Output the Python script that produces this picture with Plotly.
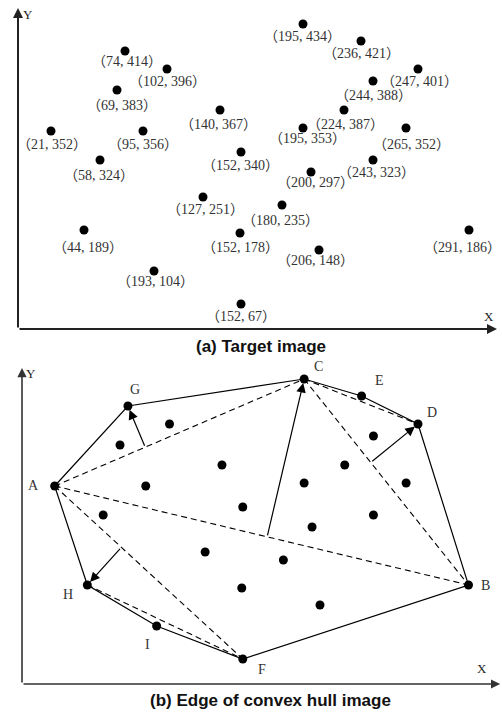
import plotly.graph_objects as go

# ---------------- data (positions) ----------------
# point positions in a common plot unit (x to the right, y upwards from the origin)
pt_x = [107, 149, 99, 33, 125, 82, 202, 223, 285, 343, 400, 355, 326, 285, 388,
        355, 293, 185, 66, 222, 136, 223, 264, 301, 451]
pt_y = [278, 260, 239, 198, 198, 169, 219, 177, 305, 288, 260, 248, 219, 201, 201,
        169, 157, 132, 99, 96, 58, 25, 124, 79, 99]
# coordinate labels printed next to each point
lab_x = [74, 102, 69, 21, 95, 58, 140, 152, 195, 236, 247, 244, 224, 195, 265,
         243, 200, 127, 44, 152, 193, 152, 180, 206, 291]
lab_y = [414, 396, 383, 352, 356, 324, 367, 340, 434, 421, 401, 388, 387, 353, 352,
         323, 297, 251, 189, 178, 104, 67, 235, 148, 186]

# convex hull vertices (letter -> labelled point), in hull order
hull_names = ["A", "G", "C", "E", "D", "B", "F", "I", "H"]
hull_points = [(21, 352), (74, 414), (195, 434), (236, 421), (247, 401),
               (291, 186), (152, 67), (193, 104), (44, 189)]
# dashed chords between hull vertices
chords = [("A", "C"), ("A", "B"), ("A", "F"), ("C", "D"), ("C", "B"), ("H", "F")]
# arrows: from chord (p, q) to farthest vertex v
arrows = [("A", "C", "G"), ("A", "B", "C"), ("C", "B", "D"), ("A", "F", "H")]

titles = ["(a) Target image", "(b) Edge of convex hull image"]

# ---------------- label placement (pixel offsets of each coordinate label) ----------------
label_dx = [2, 0, 5, 1, 0, -1, -2, -1, -1, 0, 1, 0, 1, 4, 5, 3, 4, 2, 4, 0, 1, 0, -2, -4, -7]
label_dy = [10, 12, 15, 13, 13, 15, 14, 13, 12, 12, 12, 14, 14, 10, 16, 12, 10, 12, 17, 14,
            10, 12, 15, 10, 17]

# ---------------- helpers ----------------
def idx_of(lbl):
    for i, (a, b) in enumerate(zip(lab_x, lab_y)):
        if (a, b) == lbl:
            return i
    raise KeyError(lbl)

vert = {n: idx_of(p) for n, p in zip(hull_names, hull_points)}

def P(name):
    i = vert[name]
    return pt_x[i], pt_y[i]

def foot(p, q, v):
    (x1, y1), (x2, y2), (x0, y0) = P(p), P(q), P(v)
    dx, dy = x2 - x1, y2 - y1
    t = ((x0 - x1) * dx + (y0 - y1) * dy) / (dx * dx + dy * dy)
    return x1 + t * dx, y1 + t * dy

LABEL_FONT = dict(family="Liberation Serif, Noto Sans CJK SC, serif", size=14, color="#333")
LETTER_FONT = dict(family="Liberation Serif, DejaVu Serif, serif", size=14, color="#333")
AXIS_FONT = dict(family="Liberation Serif, DejaVu Serif, serif", size=13, color="#222")
TITLE_FONT = dict(family="Liberation Sans, Arial, sans-serif", size=17, color="#111")

fig = go.Figure()

# ---------------- panel (a) ----------------
fig.add_trace(go.Scatter(
    x=pt_x, y=pt_y, mode="markers",
    marker=dict(size=9, color="black"),
    xaxis="x", yaxis="y", hoverinfo="skip"))

annotations = []
for i, (a, b) in enumerate(zip(lab_x, lab_y)):
    annotations.append(dict(x=pt_x[i], y=pt_y[i], xref="x", yref="y",
                            text=f"（{a}, {b}）", showarrow=False,
                            xanchor="center", yanchor="middle", borderpad=0,
                            xshift=label_dx[i], yshift=-label_dy[i], font=LABEL_FONT))

# ---------------- panel (b) ----------------
# dashed chords
for p, q in chords:
    (x1, y1), (x2, y2) = P(p), P(q)
    fig.add_trace(go.Scatter(x=[x1, x2], y=[y1, y2], mode="lines",
                             line=dict(color="black", width=1.1, dash="6px,4px"),
                             xaxis="x2", yaxis="y2", hoverinfo="skip"))
# solid hull
hx = [P(n)[0] for n in hull_names] + [P(hull_names[0])[0]]
hy = [P(n)[1] for n in hull_names] + [P(hull_names[0])[1]]
fig.add_trace(go.Scatter(x=hx, y=hy, mode="lines",
                         line=dict(color="black", width=1.2),
                         xaxis="x2", yaxis="y2", hoverinfo="skip"))
# all points
fig.add_trace(go.Scatter(x=pt_x, y=pt_y, mode="markers",
                         marker=dict(size=9, color="black"),
                         xaxis="x2", yaxis="y2", hoverinfo="skip"))

# hull letters (pixel offsets from the vertex)
letter_offsets = {"A": (-21, 0), "G": (7, 16), "C": (14, 12), "E": (18, 15),
                  "D": (14, 11), "B": (17, 0), "F": (19, -10), "I": (-9, -18),
                  "H": (-19, -9)}
for n in hull_names:
    x0, y0 = P(n)
    dx, dy = letter_offsets[n]
    annotations.append(dict(x=x0, y=y0, xref="x2", yref="y2", text=n, showarrow=False,
                            xshift=dx, yshift=dy, font=LETTER_FONT))
# arrows from chords to farthest vertices
for p, q, v in arrows:
    fx, fy = foot(p, q, v)
    vx, vy = P(v)
    annotations.append(dict(x=vx, y=vy, ax=fx, ay=fy, xref="x2", yref="y2",
                            axref="x2", ayref="y2", text="", showarrow=True,
                            arrowhead=2, arrowsize=1.6, arrowwidth=1.2,
                            arrowcolor="black", standoff=4))

# axes arrows
for xr, yr, ytip, xtip, w, s, col in [("x", "y", 321, 479, 2, 1.0, "#222"),
                                      ("x2", "y2", 316, 483, 1.6, 1.15, "#333")]:
    annotations.append(dict(x=0, y=ytip, ax=0, ay=0, xref=xr, yref=yr, axref=xr, ayref=yr,
                            text="", showarrow=True, arrowhead=2, arrowsize=s,
                            arrowwidth=w, arrowcolor=col))
    annotations.append(dict(x=xtip, y=0, ax=0, ay=0, xref=xr, yref=yr, axref=xr, ayref=yr,
                            text="", showarrow=True, arrowhead=2, arrowsize=s,
                            arrowwidth=w, arrowcolor=col))
# axis letters
annotations += [
    dict(x=0, y=315, xref="x", yref="y", text="Y", showarrow=False, xshift=10, font=AXIS_FONT),
    dict(x=471, y=13, xref="x", yref="y", text="X", showarrow=False, font=AXIS_FONT),
    dict(x=0, y=310, xref="x2", yref="y2", text="Y", showarrow=False, xshift=9, font=AXIS_FONT),
    dict(x=465, y=16, xref="x2", yref="y2", text="X", showarrow=False, font=AXIS_FONT),
]
# panel titles
annotations += [
    dict(x=0.52, y=1 - 346 / 713, xref="paper", yref="paper", text=f"<b>{titles[0]}</b>",
         showarrow=False, yanchor="middle", font=TITLE_FONT),
    dict(x=0.538, y=1 - 700 / 713, xref="paper", yref="paper", text=f"<b>{titles[1]}</b>",
         showarrow=False, yanchor="middle", font=TITLE_FONT),
]

fig.update_layout(
    width=502, height=713, margin=dict(l=0, r=0, t=0, b=0),
    paper_bgcolor="white", plot_bgcolor="white", showlegend=False,
    xaxis=dict(domain=[0, 1], range=[-18, 484], visible=False, anchor="y"),
    yaxis=dict(domain=[1 - 345 / 713, 1], range=[-16, 329], visible=False, anchor="x"),
    xaxis2=dict(domain=[0, 1], range=[-22.22, 484.85], visible=False, anchor="y2"),
    yaxis2=dict(domain=[0, 358 / 713], range=[-29, 329], visible=False, anchor="x2"),
    annotations=annotations,
)

fig.write_html("out.html", config={"displayModeBar": False},
               post_script="document.body.style.margin='0';"
                           "document.body.style.overflow='hidden';")
